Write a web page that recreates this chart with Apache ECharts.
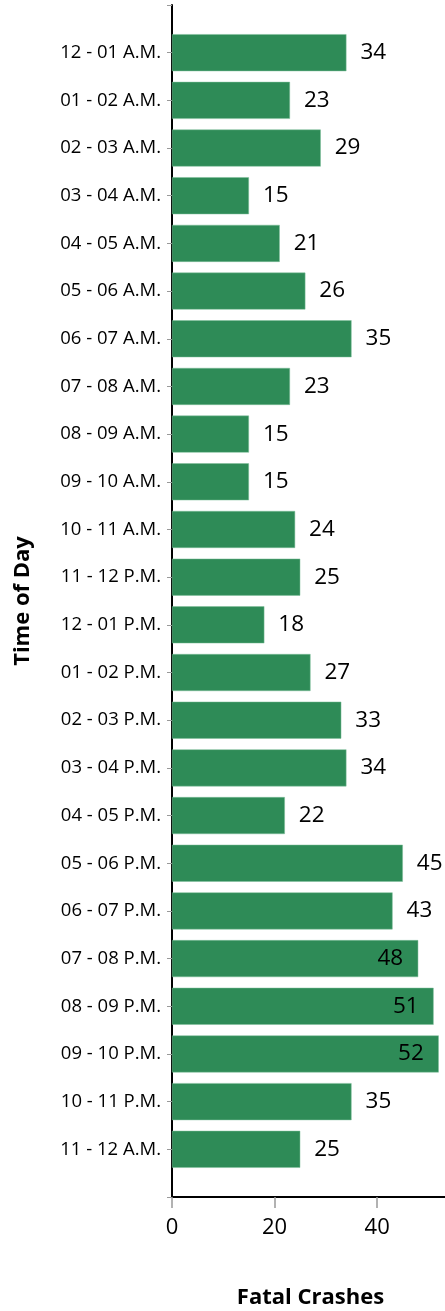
<!DOCTYPE html>
<html>
<head>
<meta charset="utf-8">
<script src="https://cdn.jsdelivr.net/npm/echarts@6/dist/echarts.min.js"></script>
<style>html,body{margin:0;padding:0;background:#fff}#c{width:445px;height:1311px}</style>
</head>
<body>
<div id="c"></div>
<script>
const categories = ['12 - 01 A.M.','01 - 02 A.M.','02 - 03 A.M.','03 - 04 A.M.','04 - 05 A.M.','05 - 06 A.M.','06 - 07 A.M.','07 - 08 A.M.','08 - 09 A.M.','09 - 10 A.M.','10 - 11 A.M.','11 - 12 P.M.','12 - 01 P.M.','01 - 02 P.M.','02 - 03 P.M.','03 - 04 P.M.','04 - 05 P.M.','05 - 06 P.M.','06 - 07 P.M.','07 - 08 P.M.','08 - 09 P.M.','09 - 10 P.M.','10 - 11 P.M.','11 - 12 A.M.'];
const fatalCrashes = [34,23,29,15,21,26,35,23,15,15,24,25,18,27,33,34,22,45,43,48,51,52,35,25];
const xTicks = [0,20,40];
const xAxisTitle = 'Fatal Crashes';
const yAxisTitle = 'Time of Day';

const FONT = 'Open Sans';
const xMax = 54;
// padded category list: empty slot at both ends so ticks sit at the bar centres
const cats = [''].concat(categories, ['']);
const data = [null].concat(fatalCrashes.map(v => ({
  value: v,
  label: v > 46 ? { position: 'insideRight', distance: 15 } : { position: 'right', distance: 14 }
})), [null]);

const chart = echarts.init(document.getElementById('c'), null, {renderer: 'canvas'});
chart.setOption({
  animation: false,
  grid: { left: 172, top: 5, width: 277, height: 1192, containLabel: false, outerBoundsMode: 'none' },
  xAxis: {
    type: 'value', min: 0, max: xMax, interval: 20,
    name: xAxisTitle, nameLocation: 'middle', nameGap: 90,
    nameTextStyle: { fontFamily: FONT, fontWeight: 'bold', fontSize: 22, color: '#000' },
    axisLine: { show: true, lineStyle: { color: '#000', width: 2 } },
    axisTick: { show: true, length: 11, lineStyle: { color: '#999', width: 1.5 } },
    axisLabel: {
      fontFamily: FONT, fontSize: 22, color: '#000', margin: 20,
      showMaxLabel: false,
      formatter: v => xTicks.indexOf(v) >= 0 ? String(v) : ''
    },
    splitLine: { show: false }
  },
  yAxis: {
    type: 'category', data: cats, inverse: true, boundaryGap: false,
    name: yAxisTitle, nameLocation: 'middle', nameGap: 138, nameRotate: 90,
    nameTextStyle: { fontFamily: FONT, fontWeight: 'bold', fontSize: 22, color: '#000' },
    axisLine: { show: true, lineStyle: { color: '#000', width: 2 } },
    axisTick: { show: true, length: 5, interval: 0, lineStyle: { color: '#999', width: 1 } },
    axisLabel: { fontFamily: FONT, fontSize: 18.5, color: '#000', margin: 11, interval: 0 }
  },
  series: [{
    type: 'bar', data: data, barWidth: 37,
    itemStyle: { color: '#2e8b57', borderColor: '#7fbf9a', borderWidth: 0.5 },
    label: { show: true, fontFamily: FONT, fontSize: 22.5, color: '#000' }
  }]
});
</script>
</body>
</html>
